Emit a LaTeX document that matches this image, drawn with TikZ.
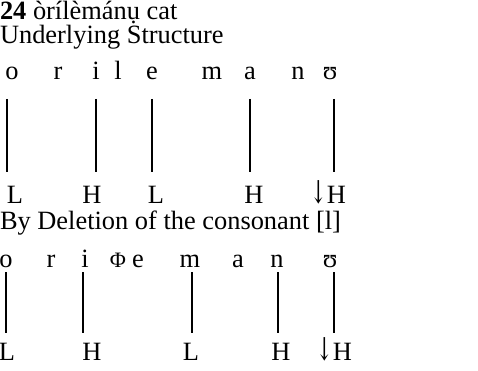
\documentclass[tikz,border=0pt]{standalone}
\usepackage{fontspec}
\usepackage{graphicx}
\setmainfont{Liberation Serif}
\newfontfamily\arrowfont{DejaVu Serif}
\newcommand{\fsz}{\fontsize{26.4pt}{30pt}\selectfont}
\newcommand{\dstep}{\scalebox{0.75}[1.2]{\arrowfont ↓}}
\newcommand{\phiseg}{{\fontsize{22pt}{24pt}\selectfont Φ}}
\begin{document}
\begin{tikzpicture}[x=1pt,y=-1pt,
  every node/.style={inner sep=0pt,outer sep=0pt,font=\fsz},
  seg/.style={anchor=base},
  lbl/.style={anchor=base west},
  assoc/.style={line width=1.8pt}]
\useasboundingbox (0,0) rectangle (478,371);
% headings
\node[lbl] (title) at (0,20) {\textbf{24} òrílèmánụ cat};
\node[lbl] (us) at (0,44) {Underlying Structure};
% row 1 segments
\node[seg] (o1) at (12,80) {o};
\node[seg] (r1) at (58,80) {r};
\node[seg] (i1) at (96,80) {i};
\node[seg] (l1) at (118,80) {l};
\node[seg] (e1) at (152,80) {e};
\node[seg] (m1) at (212,80) {m};
\node[seg] (a1) at (250,80) {a};
\node[seg] (n1) at (298,80) {n};
\node[seg] (u1) at (330,80) {ʊ};
% row 1 tones
\node[seg] (T1) at (15,203) {L};
\node[seg] (T2) at (92,203) {H};
\node[seg] (T3) at (156,203) {L};
\node[seg] (T4) at (254,203) {H};
\node[seg] (T5) at (328,203) {\dstep H};
% row 1 association lines
\coordinate (p1) at (7,99);
\coordinate (p2) at (96,99);
\coordinate (p3) at (152,99);
\coordinate (p4) at (250,99);
\coordinate (p5) at (334,99);
\foreach \p/\t in {p1/T1,p2/T2,p3/T3,p4/T4,p5/T5}
  \draw[assoc,shorten >=31pt] (\p) -- (\p |- \t.base);
% second heading
\node[lbl] (del) at (0,229) {By Deletion of the consonant [l]};
% row 2 segments
\node[seg] (o2) at (6,267) {o};
\node[seg] (r2) at (51,267) {r};
\node[seg] (i2) at (85,267) {i};
\node[seg] (f2) at (118,267) {\phiseg};
\node[seg] (e2) at (138,267) {e};
\node[seg] (m2) at (190,267) {m};
\node[seg] (a2) at (238,267) {a};
\node[seg] (n2) at (277,267) {n};
\node[seg] (u2) at (330,267) {ʊ};
% row 2 tones
\node[seg] (S1) at (7,360) {L};
\node[seg] (S2) at (92,360) {H};
\node[seg] (S3) at (191,360) {L};
\node[seg] (S4) at (281,360) {H};
\node[seg] (S5) at (334,360) {\dstep H};
% row 2 association lines
\coordinate (q1) at (6,272);
\coordinate (q2) at (83,272);
\coordinate (q3) at (192,272);
\coordinate (q4) at (278,272);
\coordinate (q5) at (334,272);
\foreach \p/\t in {q1/S1,q2/S2,q3/S3,q4/S4,q5/S5}
  \draw[assoc,shorten >=27pt] (\p) -- (\p |- \t.base);
\end{tikzpicture}
\end{document}
